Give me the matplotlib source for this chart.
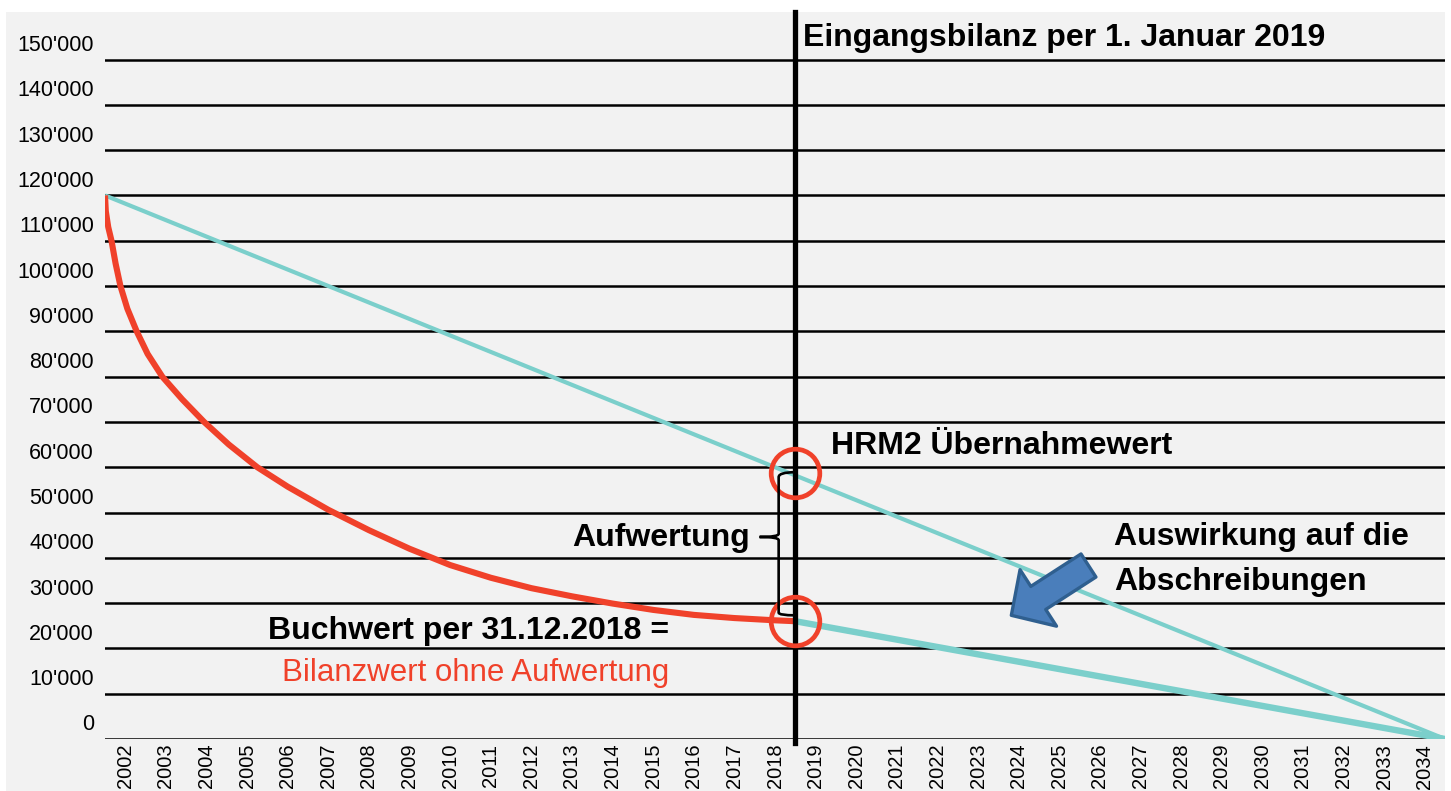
### ---- Loading required libraries
import matplotlib
matplotlib.use("Agg")
import matplotlib.pyplot as plt
from matplotlib.patches import Rectangle, PathPatch
from matplotlib.path import Path
from matplotlib.transforms import ScaledTranslation

plt.rcParams['font.family'] = ['Liberation Sans', 'DejaVu Sans']

### ---- Data
years = list(range(2002, 2035))
y_ticks = list(range(0, 160000, 10000))
y_labels = ["0" if v == 0 else f"{v // 1000}'000" for v in y_ticks]

# Linear depreciation HRM2 (whole useful life)
linear_x = [2001.5, 2034.5]
linear_y = [120000, 0]

# Degressive book value until 31.12.2018
buch_x = [2001.5, 2001.52, 2001.58, 2001.66, 2001.76, 2001.88, 2002.05, 2002.28,
          2002.55, 2002.91, 2003.4, 2003.94, 2004.55, 2005.25, 2006, 2007,
          2008, 2009, 2010, 2011, 2012, 2013, 2014, 2015,
          2016, 2017, 2018, 2018.5]
buch_y = [120000, 116500, 113000, 110000, 105000, 100000, 95000, 90000,
          85000, 80000, 75000, 70000, 65000, 60000, 55700, 50600,
          46100, 42000, 38400, 35600, 33300, 31500, 29900, 28500,
          27400, 26700, 26200, 26000]

# Remaining depreciation from 2019 on book value
rest_x = [2018.5, 2034.5]
rest_y = [26000, 0]

stichtag = 2018.5          # 1. Januar 2019
uebernahmewert = 58800     # HRM2 Übernahmewert
buchwert = 26000           # Buchwert per 31.12.2018

teal = '#7bcfcb'
red = '#f0412a'

### ---- Figure
fig = plt.figure(figsize=(14.51, 7.91), dpi=100)
fig.patches.append(Rectangle((6 / 1451, 0), 1439 / 1451, 779 / 791,
                             transform=fig.transFigure, fc='#f2f2f2',
                             ec='none', zorder=-10))
ax = fig.add_axes([105 / 1451, 52 / 791, 1340 / 1451, 727 / 791])
ax.set_facecolor('none')

ax.set_xlim(2001.5, 2034.5)
ax.set_ylim(0, 160490)
for s in ax.spines.values():
    s.set_visible(False)

# y axis: black grid, labels sitting between the lines
ax.set_yticks(y_ticks)
ax.set_yticklabels(y_labels, fontsize=15.5)
ax.yaxis.grid(True, color='black', linewidth=1.8)
ax.set_axisbelow(True)
ax.tick_params(axis='y', length=0, pad=8)
for lab in ax.get_yticklabels():
    lab.set_transform(lab.get_transform() + ScaledTranslation(0, 0.165, fig.dpi_scale_trans))

ax.set_xticks(years)
ax.set_xticklabels([str(y) for y in years], rotation=90, fontsize=14.5, va='top')
ax.tick_params(axis='x', length=0, pad=3.5)

### ---- Lines
ax.plot(linear_x, linear_y, color=teal, lw=3.0, zorder=3, solid_capstyle='butt')
ax.plot(rest_x, rest_y, color=teal, lw=4.6, zorder=3, solid_capstyle='butt')
ax.plot(buch_x, buch_y, color=red, lw=4.4, zorder=4, solid_capstyle='butt',
        solid_joinstyle='round')

ax.axvline(stichtag, ymin=-0.006, ymax=1, color='black', lw=3.8, zorder=5, clip_on=False)

# circles
ax.plot([stichtag, stichtag], [uebernahmewert, buchwert], 'o', ms=35, mfc='none',
        mec=red, mew=3.4, zorder=6)

### ---- Brace "Aufwertung"
bx = 2018.09
tip = 2017.62
mid = 44600
verts = [(stichtag, uebernahmewert + 100), (bx, uebernahmewert + 100), (bx, uebernahmewert - 1000),
         (bx, mid + 700), (bx, mid), (tip, mid),
         (bx, mid), (bx, mid - 700),
         (bx, buchwert + 1900), (bx, buchwert + 1300), (stichtag, buchwert + 1300)]
codes = [Path.MOVETO, Path.CURVE3, Path.CURVE3,
         Path.LINETO, Path.CURVE3, Path.CURVE3,
         Path.CURVE3, Path.CURVE3,
         Path.LINETO, Path.CURVE3, Path.CURVE3]
ax.add_patch(PathPatch(Path(verts, codes), fc='none', ec='black', lw=1.9, zorder=6))

### ---- Arrow
ax.annotate('', xy=(2023.82, 27300), xytext=(2025.72, 38300),
            arrowprops=dict(arrowstyle='simple,head_length=1.05,head_width=2.2,tail_width=0.9',
                            mutation_scale=22, fc='#4a7ebb', ec='#2f5f8f', lw=2.4,
                            shrinkA=0, shrinkB=0), zorder=7)

### ---- Texts
bold = dict(fontsize=23, fontweight='bold', color='black')
ax.text(2018.7, 154700, "Eingangsbilanz per 1. Januar 2019", ha='left', va='center', **bold)
ax.text(2019.38, 64700, "HRM2 Übernahmewert", ha='left', va='center', **bold)
ax.text(2017.39, 44400, "Aufwertung", ha='right', va='center', **bold)
ax.text(2026.35, 44600, "Auswirkung auf die", ha='left', va='center', **bold)
ax.text(2026.35, 34700, "Abschreibungen", ha='left', va='center', **bold)
ax.text(2010.45, 23800, "Buchwert per 31.12.2018 =", ha='center', va='center', **bold)
ax.text(2010.62, 14600, "Bilanzwert ohne Aufwertung", ha='center', va='center',
        fontsize=22.5, color=red)

plt.savefig('out.png', dpi=100)
